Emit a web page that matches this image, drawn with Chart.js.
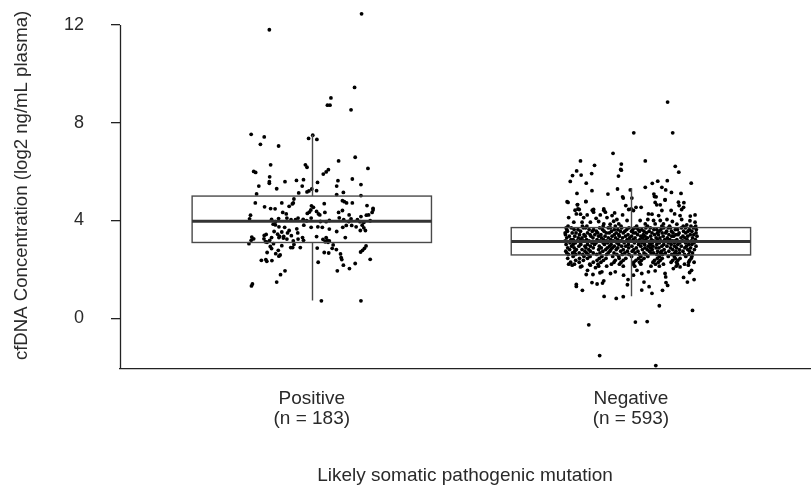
<!DOCTYPE html>
<html>
<head>
<meta charset="utf-8">
<script src="https://cdn.jsdelivr.net/npm/chart.js@4/dist/chart.umd.min.js"></script>
<style>
  html, body { margin: 0; padding: 0; background: #fff; }
  #wrap { width: 812px; height: 487px; position: relative; }
</style>
</head>
<body>
<div id="wrap"><canvas id="chart"></canvas></div>
<script>
// ------------------------------------------------------------
// data
// ------------------------------------------------------------
const categories = ['Positive', 'Negative'];
const counts = [183, 593];
const yTicks = [0, 4, 8, 12];

// box statistics per category
const boxLow = [0.72, 0.90];
const boxQ1 = [3.10, 2.59];
const boxMedian = [3.97, 3.14];
const boxQ3 = [5.00, 3.71];
const boxHigh = [7.50, 5.33];

// jittered points: [horizontal jitter, value]
const positivePoints = [
  [-0.133,11.81],[0.156,12.46],[0.134,9.45],[0.060,9.02],[0.049,8.72],[0.057,8.72],[0.123,8.53],
  [-0.190,7.53],[-0.149,7.42],[-0.161,7.12],[-0.104,7.05],[-0.010,7.36],[0.003,7.49],[0.016,7.32],
  [0.136,6.59],[0.084,6.44],
  [-0.129,6.28],[-0.020,6.28],[-0.015,6.18],[0.176,6.13],[-0.182,6.01],[-0.176,5.97],[0.052,6.08],
  [0.045,5.99],[0.036,5.90],[-0.132,5.79],[0.127,5.70],[-0.133,5.59],[-0.133,5.52],[-0.084,5.59],
  [-0.048,5.64],[-0.026,5.67],[0.018,5.56],[0.082,5.63],[0.078,5.41],[-0.166,5.41],[-0.110,5.30],
  [-0.030,5.41],[0.154,5.47],[0.000,5.29],[-0.009,5.21],[-0.015,5.17],[0.015,5.22],[-0.041,5.13],
  [-0.173,5.09],[0.099,5.15],[0.078,5.06],[0.154,5.02],[-0.056,4.88],[-0.058,4.72],[0.096,4.81],
  [0.102,4.77],[0.109,4.72],[0.127,4.72],[-0.177,4.72],[-0.094,4.72],[0.039,4.69],[-0.001,4.60],
  [0.005,4.54],[0.173,4.61],[-0.148,4.56],[-0.129,4.49],[-0.115,4.48],[-0.071,4.58],[-0.061,4.68],
  [0.096,4.41],[0.084,4.33],[0.192,4.50],[0.192,4.43],[0.189,4.33],[0.178,4.23],[0.171,4.22],
  [-0.003,4.43],[-0.008,4.34],[-0.014,4.29],[0.015,4.37],[0.021,4.27],[0.041,4.33],[0.025,4.23],
  [-0.091,4.33],[-0.080,4.27],[-0.192,4.22],[-0.195,4.07],[0.117,4.23],[0.154,4.16],
  [-0.126,4.04],[-0.114,3.95],[-0.104,4.08],[-0.078,4.10],[-0.065,4.03],[-0.051,4.03],[-0.043,4.10],
  [-0.027,4.05],[-0.016,3.99],[-0.002,4.10],[0.027,3.96],[0.045,3.95],[0.055,4.00],[0.086,4.11],
  [0.100,4.03],[0.116,3.96],[0.123,4.07],[0.143,4.03],[0.151,3.95],[0.163,3.92],[0.183,3.99],
  [-0.114,3.82],[-0.121,3.85],[0.158,3.81],[0.163,3.70],[0.168,3.59],[-0.103,3.74],[-0.085,3.72],
  [-0.071,3.59],[-0.047,3.66],[-0.025,3.81],[-0.002,3.72],[0.019,3.74],[0.033,3.72],[0.055,3.65],
  [0.078,3.55],[0.097,3.72],[0.108,3.80],[0.125,3.80],[0.139,3.74],[-0.118,3.55],[-0.094,3.53],
  [-0.044,3.49],[-0.101,3.35],[-0.088,3.35],[-0.076,3.49],[-0.064,3.38],[-0.107,3.44],[0.152,3.59],
  [-0.143,3.43],[-0.149,3.39],[-0.188,3.32],[-0.190,3.19],[-0.197,3.05],[-0.182,3.25],[-0.150,3.25],
  [-0.145,3.13],[-0.140,3.11],[-0.126,3.30],[-0.132,3.19],[-0.120,3.05],[-0.103,3.30],[-0.089,3.28],
  [-0.078,3.24],[-0.058,3.16],[-0.043,3.24],[-0.056,3.02],[-0.029,3.30],[-0.026,3.19],[0.015,3.34],
  [0.035,3.23],[0.045,3.30],[0.048,3.20],[0.042,3.13],[0.051,3.11],[0.055,3.16],[0.067,3.00],
  [0.077,2.81],[0.090,2.63],[0.092,2.48],[0.094,2.40],[0.105,3.30],[0.170,2.96],[0.165,2.86],
  [0.159,2.78],[0.153,2.71],[-0.066,2.89],[-0.060,2.89],[-0.036,2.89],[-0.094,2.97],[-0.130,2.94],
  [-0.126,2.85],[-0.105,2.78],[-0.113,2.64],[-0.099,2.59],[-0.103,2.54],[-0.140,2.69],[-0.144,2.40],
  [-0.141,2.33],[-0.158,2.37],[-0.125,2.36],[0.017,2.87],[0.039,2.69],[0.053,2.67],[0.064,2.86],
  [0.183,2.41],[0.020,2.29],[0.099,2.17],[0.118,2.03],[0.136,2.24],[0.080,1.94],[-0.084,1.94],
  [-0.098,1.78],[-0.110,1.48],[-0.186,1.40],[-0.189,1.32],[0.030,0.71],[0.154,0.71]
];

// sparse negative points (outside the dense band)
const negativePoints = [
  [0.115,8.85],
  [0.009,7.59],[0.131,7.59],[-0.056,6.75],[-0.158,6.44],[0.045,6.44],[-0.114,6.26],[-0.030,6.31],
  [-0.032,6.09],[-0.030,6.06],[-0.039,5.82],[0.139,6.22],[0.150,5.98],[-0.170,6.03],[-0.183,5.84],
  [-0.156,5.86],[-0.123,5.92],[-0.190,5.60],[-0.140,5.53],[0.084,5.61],[0.114,5.63],[0.067,5.52],
  [0.189,5.53],[0.097,5.36],[0.045,5.36],[-0.042,5.29],[-0.002,5.25],[-0.122,5.22],[0.109,5.25],
  [0.127,5.15],[-0.169,5.11],[-0.072,5.08],[0.072,5.08],[0.157,5.11],[-0.026,4.97],[-0.024,4.92],
  [0.079,4.97],[0.107,4.84],[0.003,4.92],[-0.197,4.74],[-0.141,4.78],[0.076,4.74],[-0.168,4.64],
  [0.092,4.64],[0.151,4.61],[0.166,4.73],[0.165,4.54],[-0.166,4.47],[-0.117,4.45],[-0.085,4.47],
  [-0.007,4.45],[0.001,4.47],
  [-0.200,4.77],[-0.141,4.77],[-0.167,4.65],[-0.016,4.61],[-0.175,4.42],[-0.162,4.45],[-0.121,4.42],
  [-0.085,4.42],[-0.080,4.34],[-0.117,4.34],[-0.051,4.31],[-0.171,4.27],[-0.158,4.26],[-0.137,4.23],
  [-0.096,4.23],[-0.059,4.20],[-0.026,4.23],[-0.195,4.12],[-0.148,4.12],[-0.109,4.09],[-0.075,4.12],
  [-0.044,4.04],[-0.054,3.97],[-0.012,4.00],[-0.179,3.93],[-0.153,3.93],[-0.127,3.93],[-0.101,3.96],
  [-0.085,3.86],[-0.065,3.85],[-0.038,3.86],
  [0.074,4.98],[0.107,4.85],[0.149,4.75],[0.016,4.54],[0.032,4.54],[0.081,4.64],[0.097,4.41],
  [0.126,4.41],[0.159,4.45],[0.008,4.41],[0.055,4.27],[0.066,4.26],[0.087,4.20],[0.137,4.27],
  [0.154,4.20],[0.186,4.18],[0.201,4.23],[0.029,4.00],[0.053,4.04],[0.071,4.00],[0.092,4.00],
  [0.113,4.04],[0.130,3.96],[0.159,4.04],[0.185,3.99],[0.201,3.93],[0.045,3.86],[0.076,3.86],
  [0.102,3.86],[0.144,3.85],[0.175,3.82],
  [-0.132,-0.27],[-0.098,-1.53],[0.078,-1.94],[0.014,-0.16],[0.051,-0.14],[0.193,0.32],[0.089,0.51],
  [-0.084,0.89],[-0.046,0.81],[-0.024,0.88],[-0.171,1.38],[-0.171,1.30],[-0.152,1.14],[0.034,1.15],
  [0.066,1.02],[0.099,1.14],[0.041,1.48],[0.057,1.29],[0.177,1.48],[0.198,1.58],[-0.122,1.46],
  [-0.106,1.40],[-0.089,1.44],[-0.085,1.53],[0.110,1.46],[0.115,1.34],[-0.011,1.37],[-0.009,1.58],
  [0.165,1.67],[0.184,1.87],[0.190,1.96],[-0.140,1.79],[-0.119,1.79],[-0.097,1.86],[-0.091,1.90],
  [-0.136,1.96],[0.034,1.83],[0.055,1.90],[0.076,1.94],[0.107,1.83],[0.109,1.69],[-0.064,1.83],
  [-0.049,1.90],[-0.023,1.76],[0.019,1.96],[0.008,1.76],[0.133,2.03],[0.154,2.10],[0.180,2.17],
  [-0.195,2.21],[-0.184,2.17],[-0.158,2.10],[-0.127,2.17],[-0.111,2.07]
];

// dense negative band: one value per row, jitters of the points in that row
const negBandValues = [
  3.77, 3.70, 3.63, 3.56, 3.49, 3.42, 3.36, 3.29, 3.22, 3.16, 3.09, 3.02,
  2.95, 2.88, 2.81, 2.74, 2.67, 2.61, 2.53, 2.45, 2.37, 2.29, 2.21, 2.13
];
const negBandJitter = [
  [-0.197,-0.152,-0.138,-0.087,-0.049,-0.031,0.018,0.052,0.097,0.121,0.164,0.188,0.203],
  [-0.203,-0.187,-0.149,-0.142,-0.098,-0.071,-0.064,-0.029,-0.006,0.012,0.018,0.047,0.061,0.103,0.117,0.124,0.158,0.171,0.196],
  [-0.201,-0.178,-0.166,-0.131,-0.117,-0.089,-0.052,-0.041,-0.013,0.006,0.023,0.034,0.072,0.081,0.094,0.139,0.146,0.183,0.205],
  [-0.199,-0.158,-0.121,-0.108,-0.084,-0.061,-0.033,-0.019,0.002,0.027,0.041,0.057,0.088,0.112,0.127,0.165,0.179,0.191],
  [-0.206,-0.184,-0.172,-0.136,-0.104,-0.077,-0.068,-0.046,-0.024,0.008,0.015,0.049,0.066,0.083,0.098,0.109,0.132,0.151,0.172,0.204],
  [-0.205,-0.161,-0.147,-0.128,-0.113,-0.094,-0.052,-0.038,-0.009,0.021,0.039,0.074,0.086,0.119,0.141,0.148,0.186,0.197],
  [-0.193,-0.176,-0.143,-0.125,-0.101,-0.081,-0.059,-0.036,-0.017,0.002,0.031,0.044,0.062,0.101,0.128,0.134,0.163,0.178,0.207],
  [-0.201,-0.165,-0.153,-0.119,-0.092,-0.071,-0.048,-0.026,-0.004,0.013,0.036,0.052,0.079,0.091,0.114,0.157,0.169,0.193],
  [-0.188,-0.181,-0.157,-0.139,-0.106,-0.086,-0.063,-0.041,-0.012,0.007,0.028,0.046,0.064,0.083,0.106,0.122,0.144,0.176,0.202],
  [-0.206,-0.169,-0.148,-0.131,-0.097,-0.077,-0.055,-0.031,-0.003,0.018,0.039,0.071,0.094,0.114,0.131,0.138,0.162,0.189],
  [-0.191,-0.174,-0.158,-0.122,-0.109,-0.087,-0.073,-0.044,-0.021,0.011,0.034,0.058,0.067,0.089,0.117,0.136,0.153,0.171,0.198],
  [-0.203,-0.181,-0.157,-0.136,-0.114,-0.083,-0.062,-0.038,-0.008,0.024,0.043,0.061,0.081,0.103,0.126,0.147,0.181,0.191],
  [-0.186,-0.163,-0.144,-0.127,-0.099,-0.067,-0.052,-0.029,-0.016,0.003,0.031,0.054,0.069,0.097,0.113,0.137,0.158,0.174,0.204],
  [-0.198,-0.178,-0.141,-0.118,-0.093,-0.074,-0.058,-0.041,-0.007,0.017,0.044,0.061,0.079,0.088,0.124,0.143,0.169,0.187],
  [-0.192,-0.171,-0.153,-0.132,-0.101,-0.079,-0.063,-0.046,-0.024,0.009,0.036,0.051,0.067,0.104,0.131,0.152,0.178,0.199],
  [-0.204,-0.176,-0.144,-0.127,-0.088,-0.066,-0.032,-0.011,0.004,0.022,0.058,0.084,0.096,0.119,0.141,0.163,0.184],
  [-0.201,-0.183,-0.162,-0.139,-0.118,-0.097,-0.071,-0.053,-0.019,0.013,0.041,0.063,0.071,0.092,0.108,0.137,0.152,0.193],
  [-0.196,-0.173,-0.151,-0.134,-0.107,-0.076,-0.044,-0.027,-0.006,0.027,0.047,0.081,0.099,0.128,0.146,0.168,0.181],
  [-0.181,-0.147,-0.128,-0.091,-0.057,-0.038,0.002,0.031,0.053,0.089,0.117,0.136,0.172,0.191],
  [-0.198,-0.161,-0.136,-0.099,-0.078,-0.037,-0.016,0.024,0.041,0.083,0.098,0.139,0.154,0.189],
  [-0.173,-0.149,-0.106,-0.086,-0.049,-0.024,0.016,0.033,0.074,0.092,0.131,0.147,0.184],
  [-0.189,-0.162,-0.118,-0.094,-0.053,-0.031,0.009,0.027,0.069,0.086,0.126,0.143,0.181,0.198],
  [-0.177,-0.129,-0.103,-0.061,-0.036,0.007,0.031,0.077,0.102,0.146,0.168],
  [-0.154,-0.101,-0.076,-0.024,0.012,0.063,0.089,0.142]
];

// ------------------------------------------------------------
// look
// ------------------------------------------------------------
const FONT = 'Liberation Sans, Arial, Helvetica, sans-serif';
const TEXT = '#2a2a2a';
const AXIS = '#222';
const BOX_HALF = 0.375;

function toXY(points, center) {
  return points.map(([j, v]) => ({ x: center + j, y: v }));
}

const negBand = [];
negBandValues.forEach((v, r) => {
  negBandJitter[r].forEach(j => negBand.push([j, v]));
});

// boxes + whiskers drawn through the scales
const boxPlugin = {
  id: 'boxes',
  afterDatasetsDraw(chart) {
    const { ctx, scales: { x, y } } = chart;
    ctx.save();
    categories.forEach((cat, i) => {
      const c = i + 1;
      const left = x.getPixelForValue(c - BOX_HALF);
      const right = x.getPixelForValue(c + BOX_HALF);
      const mid = Math.round(x.getPixelForValue(c)) + 0.5;
      const q1 = y.getPixelForValue(boxQ1[i]);
      const q3 = y.getPixelForValue(boxQ3[i]);
      const med = y.getPixelForValue(boxMedian[i]);

      ctx.strokeStyle = '#4a4a4a';
      ctx.lineWidth = 1.4;
      ctx.beginPath();
      ctx.moveTo(mid, y.getPixelForValue(boxHigh[i]));
      ctx.lineTo(mid, q3);
      ctx.moveTo(mid, q1);
      ctx.lineTo(mid, y.getPixelForValue(boxLow[i]));
      ctx.stroke();

      ctx.strokeRect(left, q3, right - left, q1 - q3);

      ctx.strokeStyle = '#333';
      ctx.lineWidth = 3.2;
      ctx.beginPath();
      ctx.moveTo(left, med);
      ctx.lineTo(right, med);
      ctx.stroke();
    });
    ctx.restore();
  }
};

// y axis line only from the top tick down to the x axis
const axisPlugin = {
  id: 'yAxisLine',
  afterDraw(chart) {
    const { ctx, chartArea, scales: { y } } = chart;
    const px = chartArea.left + 0.5;
    ctx.save();
    ctx.strokeStyle = AXIS;
    ctx.lineWidth = 1.3;
    ctx.beginPath();
    ctx.moveTo(px, y.getPixelForValue(yTicks[yTicks.length - 1]));
    ctx.lineTo(px, chartArea.bottom);
    ctx.stroke();
    ctx.restore();
  }
};

const pointStyle = {
  type: 'scatter',
  backgroundColor: '#000',
  borderWidth: 0,
  pointRadius: 1.9,
  pointHoverRadius: 1.9,
};

new Chart(document.getElementById('chart'), {
  data: {
    datasets: [
      { ...pointStyle, label: categories[0], data: toXY(positivePoints, 1) },
      { ...pointStyle, label: categories[1], data: toXY(negativePoints.concat(negBand), 2) },
    ]
  },
  options: {
    responsive: true,
    maintainAspectRatio: false,
    animation: false,
    layout: { padding: 0 },
    plugins: { legend: { display: false }, tooltip: { enabled: false } },
    scales: {
      x: {
        type: 'linear',
        min: 0.399,
        max: 2.5615,
        afterBuildTicks: s => { s.ticks = categories.map((c, i) => ({ value: i + 1 })); },
        afterFit: s => { s.height = 118; s.paddingLeft = 0; s.paddingRight = 0; },
        grid: { display: false, drawTicks: false },
        border: { display: true, color: AXIS, width: 1.3 },
        ticks: {
          autoSkip: false,
          maxRotation: 0,
          padding: 19.5,
          color: TEXT,
          font: { family: FONT, size: 19, lineHeight: 1.05 },
          callback: v => [categories[v - 1], `(n = ${counts[v - 1]})`],
        },
        title: {
          display: true,
          text: 'Likely somatic pathogenic mutation',
          color: TEXT,
          font: { family: FONT, size: 19 },
          padding: { top: 0, bottom: 0 },
        },
      },
      y: {
        min: -2.08,
        max: 12.95,
        afterBuildTicks: s => { s.ticks = yTicks.map(v => ({ value: v })); },
        afterFit: s => { s.width = 120; s.paddingTop = 0; s.paddingBottom = 0; },
        grid: { drawOnChartArea: false, drawTicks: true, tickLength: 9, color: AXIS, lineWidth: 1.3 },
        border: { display: false },
        ticks: {
          padding: 27,
          color: TEXT,
          font: { family: FONT, size: 18 },
        },
        title: {
          display: true,
          text: 'cfDNA Concentration (log2 ng/mL plasma)',
          color: TEXT,
          font: { family: FONT, size: 18.6 },
          padding: { top: 11, bottom: 0 },
        },
      },
    },
  },
  plugins: [boxPlugin, axisPlugin],
});
</script>
</body>
</html>
